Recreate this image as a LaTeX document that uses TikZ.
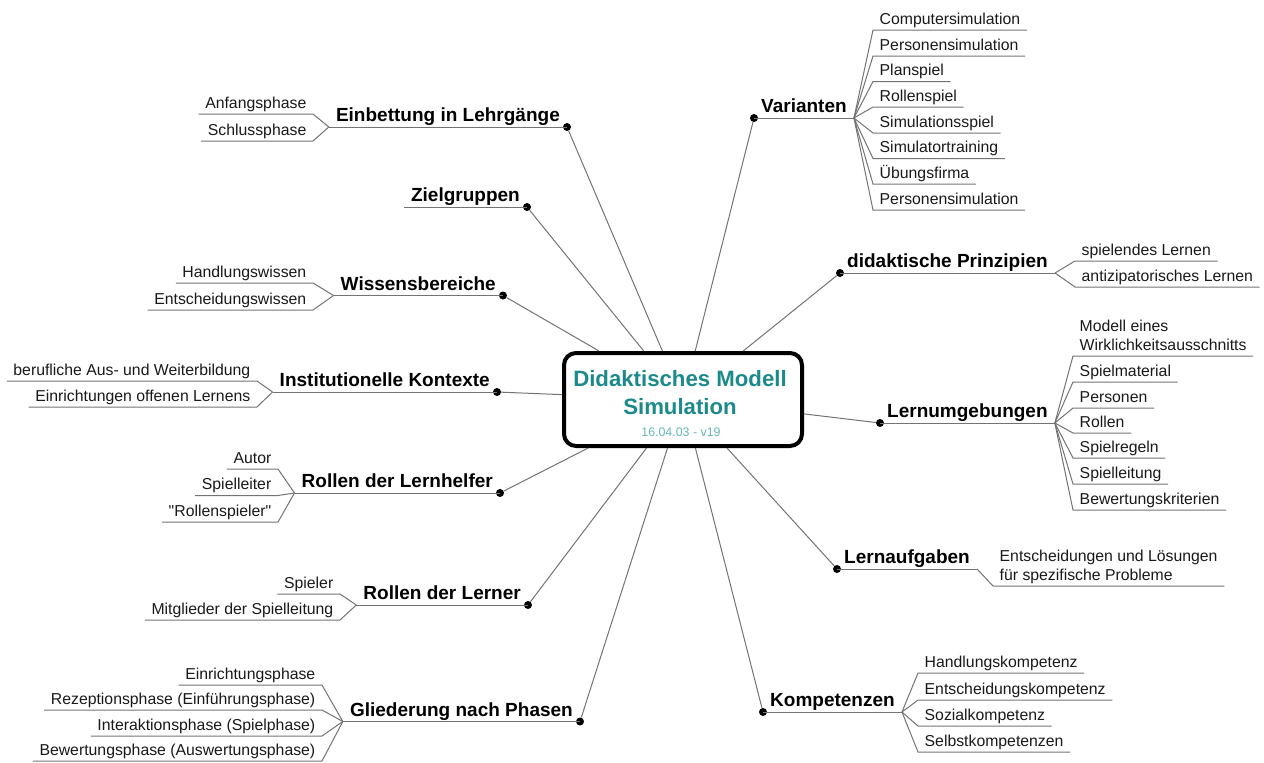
\documentclass[tikz,border=0pt]{standalone}
\usepackage{fontspec}
\setmainfont{Liberation Sans}
\newfontfamily\plainsans[Ligatures=TeXOff]{Liberation Sans}
\usetikzlibrary{calc}
\definecolor{tealA}{RGB}{28,138,138}
\definecolor{tealB}{RGB}{100,185,185}
\definecolor{linec}{RGB}{115,115,115}
\definecolor{subtext}{RGB}{25,25,25}
\newcommand{\mainf}{\fontsize{19}{22}\selectfont\bfseries}
\newcommand{\subf}{\fontsize{15.8}{18.5}\selectfont}
\newcommand{\titlef}{\fontsize{22.2}{26}\selectfont\bfseries}
\newcommand{\datef}{\fontsize{12.4}{14}\selectfont}
\begin{document}
\begin{tikzpicture}[x=1pt,y=-1pt,
  conn/.style={draw=linec, line width=1pt},
  uline/.style={draw=linec, line width=1pt},
  dot/.style={circle, fill=black, inner sep=0pt, minimum size=8pt},
  mainR/.style={anchor=south west, inner xsep=7pt, inner ysep=5pt, text depth=0pt, font=\mainf},
  mainL/.style={mainR, anchor=south east},
  subR/.style={anchor=south west, inner xsep=6.5pt, inner ysep=5.5pt, text depth=0pt, font=\subf, text=subtext, align=left},
  subL/.style={subR, anchor=south east, align=right},
  hub/.style={draw=black, line width=4pt, rounded corners=12pt, fill=white, minimum width=238pt, minimum height=93pt, inner sep=0pt}
]
\useasboundingbox (0,0) rectangle (1264,763);

% central box
\node[hub] (box) at (683,399.5) {};

% ---------- left branches ----------
% Einbettung in Lehrgaenge
\node[dot] (dE) at (567,127) {};
\node[mainL] (mE) at (dE.center) {Einbettung in Lehrgänge};
\draw[conn] (dE) -- (box);
\draw[uline] (dE.center) -- (mE.south west);
\foreach \yy/\txt [count=\i] in {114/Anfangsphase, 141/Schlussphase}{
  \node[subL] (sE\i) at (313,\yy) {\txt};
  \draw[uline] (mE.south west) -- (sE\i.south east) -- (sE\i.south west);
}

% Zielgruppen
\node[dot] (dZ) at (527,207) {};
\node[mainL] (mZ) at (dZ.center) {Zielgruppen};
\draw[conn] (dZ) -- (box);
\draw[uline] (dZ.center) -- (mZ.south west);

% Wissensbereiche
\node[dot] (dW) at (503,295.5) {};
\node[mainL] (mW) at (dW.center) {Wissensbereiche};
\draw[conn] (dW) -- (box);
\draw[uline] (dW.center) -- (mW.south west);
\foreach \yy/\txt [count=\i] in {283/Handlungswissen, 310/Entscheidungswissen}{
  \node[subL] (sW\i) at (313,\yy) {\txt};
  \draw[uline] (mW.south west) -- (sW\i.south east) -- (sW\i.south west);
}

% Institutionelle Kontexte
\node[dot] (dI) at (497,392) {};
\node[mainL] (mI) at (dI.center) {Institutionelle Kontexte};
\draw[conn] (dI) -- (box);
\draw[uline] (dI.center) -- (mI.south west);
\foreach \yy/\txt [count=\i] in {381/berufliche Aus- und Weiterbildung, 407/Einrichtungen offenen Lernens}{
  \node[subL] (sI\i) at (257,\yy) {\txt};
  \draw[uline] (mI.south west) -- (sI\i.south east) -- (sI\i.south west);
}

% Rollen der Lernhelfer
\node[dot] (dH) at (500,493) {};
\node[mainL] (mH) at (dH.center) {Rollen der Lernhelfer};
\draw[conn] (dH) -- (box);
\draw[uline] (dH.center) -- (mH.south west);
\foreach \yy/\txt [count=\i] in {469/{Autor}, 495.5/{Spielleiter}, 522/{\plainsans"Rollenspieler"}}{
  \node[subL] (sH\i) at (278,\yy) {\txt};
  \draw[uline] (mH.south west) -- (sH\i.south east) -- (sH\i.south west);
}

% Rollen der Lerner
\node[dot] (dL) at (528,605) {};
\node[mainL] (mL) at (dL.center) {Rollen der Lerner};
\draw[conn] (dL) -- (box);
\draw[uline] (dL.center) -- (mL.south west);
\foreach \yy/\txt [count=\i] in {594/Spieler, 620/Mitglieder der Spielleitung}{
  \node[subL] (sL\i) at (340,\yy) {\txt};
  \draw[uline] (mL.south west) -- (sL\i.south east) -- (sL\i.south west);
}

% Gliederung nach Phasen
\node[dot] (dG) at (580,721.5) {};
\node[mainL] (mG) at (dG.center) {Gliederung nach Phasen};
\draw[conn] (dG) -- (box);
\draw[uline] (dG.center) -- (mG.south west);
\foreach \yy/\txt [count=\i] in {685/Einrichtungsphase, 710/Rezeptionsphase (Einführungsphase), 736/Interaktionsphase (Spielphase), 761/Bewertungsphase (Auswertungsphase)}{
  \node[subL] (sG\i) at (322,\yy) {\txt};
  \draw[uline] (mG.south west) -- (sG\i.south east) -- (sG\i.south west);
}

% ---------- right branches ----------
% Varianten
\node[dot] (dV) at (754,118) {};
\node[mainR] (mV) at (dV.center) {Varianten};
\draw[conn] (dV) -- (box);
\draw[uline] (dV.center) -- (mV.south east);
\foreach \yy/\txt [count=\i] in {30/Computersimulation, 56/Personensimulation, 81.5/Planspiel, 107/Rollenspiel, 133/Simulationsspiel, 158.5/Simulatortraining, 184/Übungsfirma, 210/Personensimulation}{
  \node[subR] (sV\i) at (873,\yy) {\txt};
  \draw[uline] (mV.south east) -- (sV\i.south west) -- (sV\i.south east);
}

% didaktische Prinzipien
\node[dot] (dP) at (840,273) {};
\node[mainR] (mP) at (dP.center) {didaktische Prinzipien};
\draw[conn] (dP) -- (box);
\draw[uline] (dP.center) -- (mP.south east);
\foreach \yy/\txt [count=\i] in {261/spielendes Lernen, 287/antizipatorisches Lernen}{
  \node[subR] (sP\i) at (1075,\yy) {\txt};
  \draw[uline] (mP.south east) -- (sP\i.south west) -- (sP\i.south east);
}

% Lernumgebungen
\node[dot] (dU) at (880,423) {};
\node[mainR] (mU) at (dU.center) {Lernumgebungen};
\draw[conn] (dU) -- (box);
\draw[uline] (dU.center) -- (mU.south east);
\node[subR] (sU0) at (1073,356) {Modell eines\\Wirklichkeitsausschnitts};
\draw[uline] (mU.south east) -- (sU0.south west) -- (sU0.south east);
\foreach \yy/\txt [count=\i] in {382/Spielmaterial, 408/Personen, 433/Rollen, 458/Spielregeln, 484/Spielleitung, 510/Bewertungskriterien}{
  \node[subR] (sU\i) at (1073,\yy) {\txt};
  \draw[uline] (mU.south east) -- (sU\i.south west) -- (sU\i.south east);
}

% Lernaufgaben
\node[dot] (dA) at (837,569) {};
\node[mainR] (mA) at (dA.center) {Lernaufgaben};
\draw[conn] (dA) -- (box);
\draw[uline] (dA.center) -- (mA.south east);
\node[subR] (sA1) at (993,586) {Entscheidungen und Lösungen\\für spezifische Probleme};
\draw[uline] (mA.south east) -- (sA1.south west) -- (sA1.south east);

% Kompetenzen
\node[dot] (dK) at (763,712) {};
\node[mainR] (mK) at (dK.center) {Kompetenzen};
\draw[conn] (dK) -- (box);
\draw[uline] (dK.center) -- (mK.south east);
\foreach \yy/\txt [count=\i] in {673/Handlungskompetenz, 700/Entscheidungskompetenz, 726/Sozialkompetenz, 752/Selbstkompetenzen}{
  \node[subR] (sK\i) at (918,\yy) {\txt};
  \draw[uline] (mK.south east) -- (sK\i.south west) -- (sK\i.south east);
}

% central texts
\node[font=\titlef, text=tealA, anchor=base, inner sep=0pt] (t1) at (680,386) {Didaktisches Modell};
\node[font=\titlef, text=tealA, anchor=base, inner sep=0pt] (t2) at (680,414) {Simulation};
\node[font=\datef, text=tealB, anchor=base, inner sep=0pt] (t3) at (681,436.5) {16.04.03 - v19};
\end{tikzpicture}
\end{document}
